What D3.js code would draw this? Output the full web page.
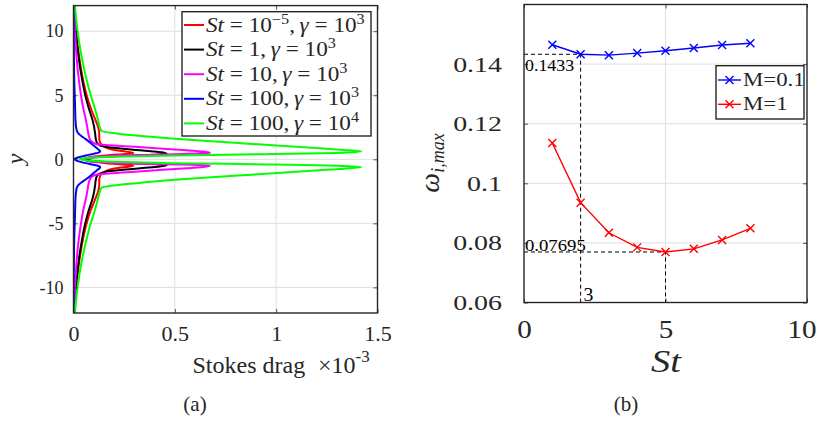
<!DOCTYPE html>
<html><head><meta charset="utf-8">
<script src="https://cdn.jsdelivr.net/npm/d3@7"></script>
<style>
body{margin:0;background:#fff}
svg text{font-family:"Liberation Serif","Times New Roman",serif;white-space:pre}
</style></head><body>
<svg id="fig" width="817" height="422" font-family="Liberation Serif, serif"></svg>
<script>
// ---------- panel (a): Stokes drag profiles across y (drag in units of 1e-3)
const yProfile = [12,10,8,6,5,4,3,2.5,2.2,2,1.8,1.6,1.4,1.2,1,0.8,0.7,0.6,0.5,0.45,0.4,0.3,0.2,0.1,0,
  -0.1,-0.2,-0.3,-0.4,-0.45,-0.5,-0.6,-0.7,-0.8,-1,-1.2,-1.4,-1.6,-1.8,-2,-2.2,-2.5,-3,-4,-5,-6,-8,-10,-12];

const dragSt1e5 = [0.005,0.014,0.028,0.05,0.065,0.085,0.11,0.122,0.126,0.127,0.127,0.127,0.13,0.135,0.15,0.18,0.21,0.26,0.295,0.28,0.24,0.16,0.1,0.07,0.06,
  0.07,0.1,0.16,0.24,0.28,0.295,0.26,0.21,0.18,0.15,0.135,0.13,0.127,0.127,0.127,0.126,0.122,0.11,0.085,0.065,0.05,0.028,0.014,0.005];
const dragSt1 = [0.004,0.012,0.025,0.045,0.058,0.075,0.095,0.102,0.105,0.107,0.108,0.11,0.113,0.12,0.15,0.26,0.33,0.4,0.45,0.46,0.44,0.3,0.14,0.08,0.065,
  0.08,0.14,0.3,0.44,0.46,0.45,0.4,0.33,0.26,0.15,0.12,0.113,0.11,0.108,0.107,0.105,0.102,0.095,0.075,0.058,0.045,0.025,0.012,0.004];
const dragSt10 = [0.003,0.008,0.015,0.028,0.037,0.048,0.062,0.068,0.071,0.073,0.076,0.08,0.088,0.11,0.28,0.46,0.56,0.64,0.673,0.62,0.5,0.24,0.1,0.06,0.045,
  0.06,0.1,0.24,0.5,0.62,0.673,0.64,0.56,0.46,0.28,0.11,0.088,0.08,0.076,0.073,0.071,0.068,0.062,0.048,0.037,0.028,0.015,0.008,0.003];
const dragSt100 = [0,0.001,0.002,0.004,0.006,0.008,0.01,0.013,0.017,0.025,0.04,0.058,0.075,0.09,0.105,0.12,0.128,0.132,0.12,0.105,0.09,0.06,0.035,0.015,0.005,
  0.015,0.035,0.06,0.09,0.105,0.12,0.132,0.128,0.12,0.105,0.09,0.075,0.058,0.04,0.025,0.017,0.013,0.01,0.008,0.006,0.004,0.002,0.001,0];
const dragSt100g4 = [0.007,0.02,0.04,0.068,0.085,0.105,0.122,0.13,0.14,0.22,0.35,0.5,0.68,0.88,1.08,1.27,1.36,1.42,1.3,1.15,0.95,0.5,0.2,0.07,0.03,
  0.07,0.2,0.5,0.95,1.15,1.3,1.42,1.36,1.27,1.08,0.88,0.68,0.5,0.35,0.22,0.14,0.13,0.122,0.105,0.085,0.068,0.04,0.02,0.007];

const profileColors = ["#ff0000","#000000","#ff00ff","#0000ff","#00ff00"];
const stBase = ["10","1","10","100","100"];
const stExp = ["\u22125","","","",""];
const gammaExp = ["3","3","3","3","4"];

const dragTicks = [0,0.5,1,1.5];
const dragTickLabels = ["0","0.5","1","1.5"];
const yTicks = [-10,-5,0,5,10];
const yTickLabels = ["-10","-5","0","5","10"];

// ---------- panel (b): maximum growth rate against Stokes number
const stValues = [1,2,3,4,5,6,7,8];
const omegaM01 = [0.1465,0.1433,0.1430,0.1437,0.1445,0.1454,0.1464,0.1470];
const omegaM1 = [0.1135,0.0935,0.0834,0.0785,0.07695,0.0780,0.0810,0.0849];
const seriesNames = ["M=0.1","M=1"];
const seriesColors = ["#0000ff","#ff0000"];

const stTicks = [0,5,10];
const stTickLabels = ["0","5","10"];
const omegaTicks = [0.06,0.08,0.1,0.12,0.14];
const omegaTickLabels = ["0.06","0.08","0.1","0.12","0.14"];

// reference guides at the minima
const guideSt = [2,5];
const guideOmega = [0.1433,0.07695];
const guideLabels = ["0.1433","0.07695"];
const guideStLabel = "3";

const svg = d3.select("#fig");
const ink = "#262626", gridCol = "#dfdfdf";

function styleAxis(g, size, k){
  g.attr("font-family", null);
  g.select(".domain").remove();
  g.selectAll(".tick line").attr("stroke", ink).attr("stroke-width", 0.8);
  g.selectAll("text").attr("fill", ink).attr("font-size", size);
  if (k && k !== 1) {
    g.selectAll("text").each(function(){
      const t = d3.select(this);
      const x = +t.attr("x") || 0;
      t.attr("x", x / k).attr("transform", `scale(${k},1)`);
    });
  }
}

// ===== panel (a)
const xA = d3.scaleLinear().domain([0,1.5]).range([73.5,377.5]);
const yA = d3.scaleLinear().domain([-12,12]).range([313,5.6]);
const gA = svg.append("g");

gA.append("g").selectAll("line").data(dragTicks.filter(t => t > 0 && t < 1.5)).join("line")
  .attr("x1", d => xA(d)).attr("x2", d => xA(d)).attr("y1", yA(-12)).attr("y2", yA(12))
  .attr("stroke", gridCol).attr("stroke-width", 1);
gA.append("g").selectAll("line").data(yTicks).join("line")
  .attr("x1", xA(0)).attr("x2", xA(1.5)).attr("y1", d => yA(d)).attr("y2", d => yA(d))
  .attr("stroke", gridCol).attr("stroke-width", 1);

svg.append("clipPath").attr("id","clipA").append("rect")
  .attr("x", xA(0)).attr("y", yA(12)).attr("width", xA(1.5)-xA(0)).attr("height", yA(-12)-yA(12));

const profiles = [dragSt1e5, dragSt1, dragSt10, dragSt100, dragSt100g4];
const lineA = d3.line().x(d => xA(d.v)).y(d => yA(d.y)).curve(d3.curveMonotoneY);
const gCurves = gA.append("g").attr("clip-path","url(#clipA)");
profiles.forEach((vals, i) => {
  const pts = yProfile.map((y, j) => ({y, v: vals[j]})).sort((a, b) => a.y - b.y);
  gCurves.append("path").datum(pts).attr("d", lineA)
    .attr("fill","none").attr("stroke", profileColors[i]).attr("stroke-width", 2)
    .attr("stroke-linejoin","round");
});

const axA_b = gA.append("g").attr("transform", `translate(0,${yA(-12)})`)
  .call(d3.axisBottom(xA).tickValues(dragTicks).tickFormat((d,i) => dragTickLabels[i])
    .tickSizeInner(-4).tickSizeOuter(0).tickPadding(12));
styleAxis(axA_b, 22);
const axA_t = gA.append("g").attr("transform", `translate(0,${yA(12)})`)
  .call(d3.axisTop(xA).tickValues(dragTicks).tickFormat("").tickSizeInner(-4).tickSizeOuter(0));
styleAxis(axA_t, 10);
const axA_l = gA.append("g").attr("transform", `translate(${xA(0)},0)`)
  .call(d3.axisLeft(yA).tickValues(yTicks).tickFormat((d,i) => yTickLabels[i])
    .tickSizeInner(-4).tickSizeOuter(0).tickPadding(10));
styleAxis(axA_l, 18);
const axA_r = gA.append("g").attr("transform", `translate(${xA(1.5)},0)`)
  .call(d3.axisRight(yA).tickValues(yTicks).tickFormat("").tickSizeInner(-4).tickSizeOuter(0));
styleAxis(axA_r, 10);

gA.append("rect").attr("x", xA(0)).attr("y", yA(12)).attr("width", xA(1.5)-xA(0)).attr("height", yA(-12)-yA(12))
  .attr("fill","none").attr("stroke", ink).attr("stroke-width", 1.4);

// legend (a)
const legA = gA.append("g");
legA.append("rect").attr("x",182).attr("y",11.7).attr("width",189).attr("height",124.3)
  .attr("fill","#fff").attr("stroke", ink).attr("stroke-width", 1.4);
profileColors.forEach((c, i) => {
  const yy = 25 + i * 24.6;
  legA.append("line").attr("x1",184).attr("x2",204).attr("y1",yy).attr("y2",yy)
    .attr("stroke", c).attr("stroke-width", 2);
  const t = legA.append("text").attr("transform", `translate(206,${yy + 6.5}) scale(1.16,1)`)
    .attr("font-size",20).attr("fill", ink);
  t.append("tspan").attr("font-style","italic").text("St");
  t.append("tspan").text(" = " + stBase[i]);
  if (stExp[i]) {
    t.append("tspan").attr("font-size",14).attr("dy",-8).text(stExp[i]);
    t.append("tspan").attr("dy",8).text(",\u2009");
  } else {
    t.append("tspan").text(",\u2009");
  }
  t.append("tspan").attr("font-style","italic").text("\u03b3");
  t.append("tspan").text(" = 10");
  t.append("tspan").attr("font-size",14).attr("dy",-8).text(gammaExp[i]);
});

// axis titles (a)
svg.append("text").attr("transform","translate(23,159) rotate(-90)").attr("text-anchor","middle")
  .attr("font-size",24).attr("font-style","italic").attr("fill", ink).text("y");
svg.append("text").attr("x",192.5).attr("y",373).attr("font-size",24).attr("fill", ink).text("Stokes drag");
const mult = svg.append("text").attr("x",318).attr("y",373).attr("font-size",24).attr("fill", ink);
mult.append("tspan").text("\u00d710");
mult.append("tspan").attr("font-size",17).attr("dy",-11).text("-3");
svg.append("text").attr("x",195).attr("y",411).attr("text-anchor","middle").attr("font-size",21).attr("fill", ink).text("(a)");

// ===== panel (b)
const kB = 1.27;
const xB = d3.scaleLinear().domain([0,10]).range([524,807]);
const yB = d3.scaleLinear().domain([0.06,0.16]).range([302.5,4.5]);
const gB = svg.append("g");

gB.append("g").selectAll("line").data(stTicks.filter(t => t > 0 && t < 10)).join("line")
  .attr("x1", d => xB(d)).attr("x2", d => xB(d)).attr("y1", yB(0.06)).attr("y2", yB(0.16))
  .attr("stroke", gridCol).attr("stroke-width", 1);
gB.append("g").selectAll("line").data(omegaTicks.filter(t => t > 0.06)).join("line")
  .attr("x1", xB(0)).attr("x2", xB(10)).attr("y1", d => yB(d)).attr("y2", d => yB(d))
  .attr("stroke", gridCol).attr("stroke-width", 1);

// dashed guides to the minima
guideSt.forEach((s, i) => {
  const pts = [[0, guideOmega[i]], [s, guideOmega[i]], [s, 0.06]];
  gB.append("path").attr("d", d3.line().x(d => xB(d[0])).y(d => yB(d[1]))(pts))
    .attr("fill","none").attr("stroke","#000").attr("stroke-width",1).attr("stroke-dasharray","4,3");
});
gB.append("text").attr("transform", `translate(${xB(0)+1},${yB(guideOmega[0])+17}) scale(1.05,1)`)
  .attr("font-size",17).attr("fill","#000").text(guideLabels[0]);
gB.append("text").attr("transform", `translate(${xB(0)+1},${yB(guideOmega[1])-1}) scale(1.1,1)`)
  .attr("font-size",17).attr("fill","#000").text(guideLabels[1]);
gB.append("text").attr("transform", `translate(${xB(guideSt[0])+3},${yB(0.06)-2}) scale(1.1,1)`)
  .attr("font-size",18).attr("fill","#000").text(guideStLabel);

const lineB = d3.line().x(d => xB(d.s)).y(d => yB(d.w));
const crossPath = "M-4,-4L4,4M-4,4L4,-4";
[omegaM01, omegaM1].forEach((vals, i) => {
  const pts = stValues.map((s, j) => ({s, w: vals[j]}));
  gB.append("path").datum(pts).attr("d", lineB).attr("fill","none")
    .attr("stroke", seriesColors[i]).attr("stroke-width", 1.4);
  gB.append("g").selectAll("path").data(pts).join("path")
    .attr("transform", d => `translate(${xB(d.s)},${yB(d.w)})`).attr("d", crossPath)
    .attr("stroke", seriesColors[i]).attr("stroke-width", 1.4).attr("fill","none");
});

const axB_b = gB.append("g").attr("transform", `translate(0,${yB(0.06)})`)
  .call(d3.axisBottom(xB).tickValues(stTicks).tickFormat((d,i) => stTickLabels[i])
    .tickSizeInner(-4).tickSizeOuter(0).tickPadding(17));
styleAxis(axB_b, 26, 1.12);
// the last label sits just inside the figure edge
axB_b.selectAll(".tick").filter(d => d === 10).select("text").attr("text-anchor","end").attr("x", 9 / 1.12);
const axB_t = gB.append("g").attr("transform", `translate(0,${yB(0.16)})`)
  .call(d3.axisTop(xB).tickValues(stTicks).tickFormat("").tickSizeInner(-4).tickSizeOuter(0));
styleAxis(axB_t, 10);
const axB_l = gB.append("g").attr("transform", `translate(${xB(0)},0)`)
  .call(d3.axisLeft(yB).tickValues(omegaTicks).tickFormat((d,i) => omegaTickLabels[i])
    .tickSizeInner(-4).tickSizeOuter(0).tickPadding(22));
styleAxis(axB_l, 22, kB);
const axB_r = gB.append("g").attr("transform", `translate(${xB(10)},0)`)
  .call(d3.axisRight(yB).tickValues(omegaTicks).tickFormat("").tickSizeInner(-4).tickSizeOuter(0));
styleAxis(axB_r, 10);

gB.append("rect").attr("x", xB(0)).attr("y", yB(0.16)).attr("width", xB(10)-xB(0)).attr("height", yB(0.06)-yB(0.16))
  .attr("fill","none").attr("stroke", ink).attr("stroke-width", 1.4);

// legend (b)
const legB = gB.append("g");
legB.append("rect").attr("x",716).attr("y",65.7).attr("width",88).attr("height",53.3)
  .attr("fill","#fff").attr("stroke", ink).attr("stroke-width", 1.4);
seriesNames.forEach((name, i) => {
  const yy = 80 + i * 24.3;
  legB.append("line").attr("x1",718).attr("x2",741).attr("y1",yy).attr("y2",yy)
    .attr("stroke", seriesColors[i]).attr("stroke-width",1.4);
  legB.append("path").attr("transform", `translate(729.5,${yy})`).attr("d", crossPath)
    .attr("stroke", seriesColors[i]).attr("stroke-width",1.4).attr("fill","none");
  legB.append("text").attr("transform", `translate(743,${yy+6}) scale(${kB},1)`)
    .attr("font-size",18).attr("fill", ink).text(name);
});

// axis titles (b)
const wl = svg.append("text").attr("transform","translate(439,163) rotate(-90)").attr("text-anchor","middle")
  .attr("fill", ink).attr("font-style","italic");
wl.append("tspan").attr("font-size",28).text("\u03c9");
wl.append("tspan").attr("font-size",18).attr("dy",5).text("i,max");
svg.append("text").attr("transform","translate(666,371.5) scale(1.2,1)").attr("text-anchor","middle")
  .attr("font-size",32).attr("font-style","italic").attr("fill", ink).text("St");
svg.append("text").attr("x",626).attr("y",411).attr("text-anchor","middle").attr("font-size",21).attr("fill", ink).text("(b)");
</script>
</body></html>
